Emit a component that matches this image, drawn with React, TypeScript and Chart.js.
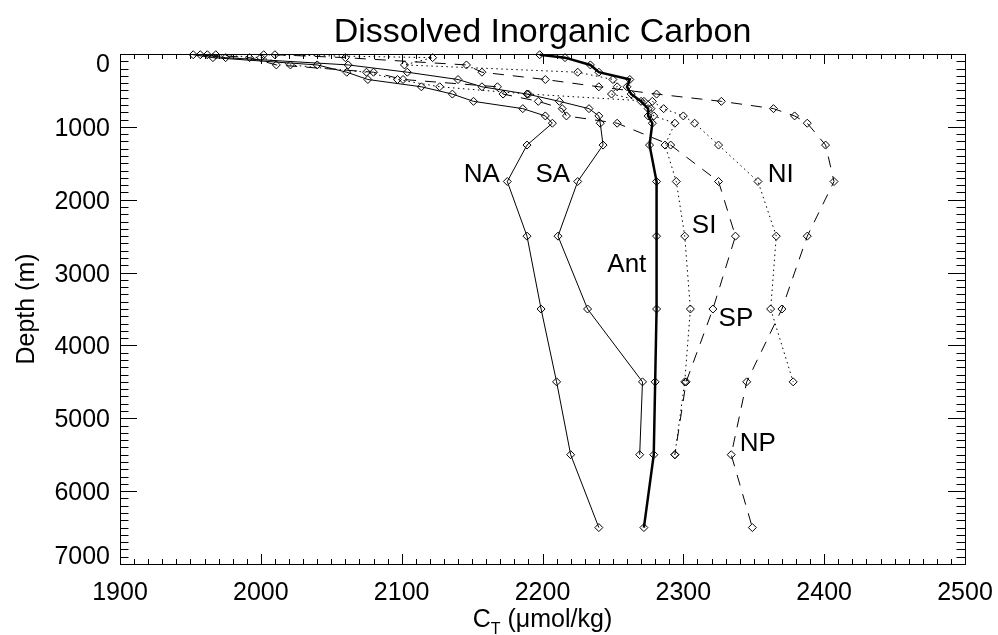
import React, { useEffect, useRef } from 'react';
import { Chart, registerables } from 'chart.js';

Chart.register(...registerables);

// ---- data ----
const depths = [10, 50, 150, 250, 350, 450, 550, 650, 750, 850, 950, 1250, 1750, 2500, 3500, 4500, 5500, 6500];

const naValues = [1952, 1966, 2040, 2061, 2076, 2114, 2136, 2151, 2186, 2202, 2207, 2189, 2175, 2189, 2199, 2210, 2220, 2240];
const saValues = [1957, 1975, 2062, 2104, 2140, 2157, 2189, 2212, 2233, 2240, 2241, 2243, 2225, 2211, 2232, 2271, 2269];
const antValues = [2198, 2216, 2234, 2240, 2262, 2260, 2263, 2270, 2275, 2275, 2278, 2276, 2281, 2281, 2281, 2280, 2279, 2272];
const siValues = [2002, 2122, 2102, 2225, 2250, 2253, 2249, 2272, 2277, 2279, 2294, 2287, 2295, 2301, 2305, 2301, 2294];
const spValues = [1962, 1992, 2011, 2080, 2101, 2168, 2172, 2197, 2214, 2217, 2253, 2291, 2325, 2337, 2321, 2302, 2294];
const niValues = [1968, 2000, 2021, 2075, 2097, 2127, 2190, 2278, 2286, 2300, 2308, 2325, 2353, 2366, 2362, 2378];
const npValues = [2010, 2060, 2146, 2157, 2202, 2240, 2281, 2327, 2364, 2379, 2388, 2401, 2407, 2388, 2370, 2345, 2334, 2349];

const xTickLabels = ['1900', '2000', '2100', '2200', '2300', '2400', '2500'];
const yTickLabels = ['0', '1000', '2000', '3000', '4000', '5000', '6000', '7000'];

const seriesLabels = ['NA', 'SA', 'Ant', 'SI', 'NI', 'SP', 'NP'];
// label anchors (left, baseline) in data units
const labelX = [2144, 2195, 2246, 2306, 2360, 2325, 2340];
const labelY = [1756, 1756, 2986, 2451, 1752, 3731, 5455];

const TITLE = 'Dissolved Inorganic Carbon';
const Y_TITLE = 'Depth (m)';

const FONT = '"Liberation Sans", Arial, Helvetica, sans-serif';

function toPoints(values: number[]) {
  return values.map((v, i) => ({ x: v, y: depths[i] }));
}

const framePlugin = {
  id: 'idlFrame',
  afterDraw(chart: any) {
    const ctx = chart.ctx as CanvasRenderingContext2D;
    const { left, right, top, bottom } = chart.chartArea;
    const xs = chart.scales.x;
    const ys = chart.scales.y;
    ctx.save();
    ctx.strokeStyle = '#000';
    ctx.lineWidth = 1;
    ctx.strokeRect(Math.round(left) + 0.5, Math.round(top) + 0.5, Math.round(right - left), Math.round(bottom - top));

    ctx.beginPath();
    for (let v = 1900; v <= 2500; v += 10) {
      const px = Math.round(xs.getPixelForValue(v)) + 0.5;
      const len = v % 100 === 0 ? 10 : 5;
      ctx.moveTo(px, bottom);
      ctx.lineTo(px, bottom - len);
      ctx.moveTo(px, top);
      ctx.lineTo(px, top + len);
    }
    for (let d = 0; d <= 7000; d += 100) {
      const py = Math.round(ys.getPixelForValue(d)) + 0.5;
      const len = d % 1000 === 0 ? 17 : 8.5;
      ctx.moveTo(left, py);
      ctx.lineTo(left + len, py);
      ctx.moveTo(right, py);
      ctx.lineTo(right - len, py);
    }
    ctx.stroke();

    ctx.fillStyle = '#000';
    ctx.font = `25px ${FONT}`;
    ctx.textAlign = 'center';
    ctx.textBaseline = 'alphabetic';
    xTickLabels.forEach((t) => {
      const px = xs.getPixelForValue(Number(t));
      ctx.fillText(t, px, 600);
    });
    ctx.textAlign = 'right';
    const capH = 18;
    yTickLabels.forEach((t) => {
      let py = ys.getPixelForValue(Number(t));
      py = Math.max(top + capH / 2, Math.min(bottom - capH / 2, py));
      ctx.fillText(t, left - 10, py + capH / 2);
    });

    ctx.textAlign = 'center';
    ctx.font = `34px ${FONT}`;
    ctx.fillText(TITLE, (left + right) / 2, 42);

    ctx.textAlign = 'left';
    const bigFont = `25px ${FONT}`;
    const smallFont = `16px ${FONT}`;
    ctx.font = bigFont;
    const wC = ctx.measureText('C').width;
    const rest = ' (\u03bcmol/kg)';
    const wRest = ctx.measureText(rest).width;
    ctx.font = smallFont;
    const wT = ctx.measureText('T').width;
    const total = wC + wT + wRest;
    const x0 = (left + right) / 2 - total / 2;
    ctx.font = bigFont;
    ctx.fillText('C', x0, 627);
    ctx.font = smallFont;
    ctx.fillText('T', x0 + wC, 634);
    ctx.font = bigFont;
    ctx.fillText(rest, x0 + wC + wT, 627);

    ctx.save();
    ctx.translate(34, (top + bottom) / 2);
    ctx.rotate(-Math.PI / 2);
    ctx.textAlign = 'center';
    ctx.font = bigFont;
    ctx.fillText(Y_TITLE, 0, 0);
    ctx.restore();

    ctx.font = `26px ${FONT}`;
    ctx.textAlign = 'left';
    seriesLabels.forEach((s, i) => {
      ctx.fillText(s, xs.getPixelForValue(labelX[i]), ys.getPixelForValue(labelY[i]));
    });
    ctx.restore();
  },
};

export default function App() {
  const ref = useRef<HTMLCanvasElement | null>(null);
  useEffect(() => {
    if (!ref.current) return;
    const common = {
      showLine: true,
      borderColor: '#000',
      pointBorderColor: '#000',
      pointBackgroundColor: 'rgba(0,0,0,0)',
      pointStyle: 'rectRot',
      pointRadius: 4,
      pointBorderWidth: 1,
      tension: 0,
      clip: false,
    };
    const dotted = [1.5, 3.5];
    const dashed = [11, 9];
    const chart = new Chart(ref.current, {
      type: 'scatter',
      data: {
        datasets: [
          { ...common, label: 'NA', data: toPoints(naValues), borderWidth: 1 },
          { ...common, label: 'SA', data: toPoints(saValues), borderWidth: 1 },
          { ...common, label: 'Ant', data: toPoints(antValues), borderWidth: 2.5 },
          { ...common, label: 'SI', data: toPoints(siValues), borderWidth: 1, borderDash: dotted },
          { ...common, label: 'NI', data: toPoints(niValues), borderWidth: 1, borderDash: dotted },
          { ...common, label: 'SP', data: toPoints(spValues), borderWidth: 1, borderDash: dashed },
          { ...common, label: 'NP', data: toPoints(npValues), borderWidth: 1, borderDash: dashed },
        ] as any,
      },
      options: {
        responsive: false,
        animation: false,
        layout: { padding: { left: 120, top: 54, right: 33, bottom: 71 } },
        plugins: { legend: { display: false }, tooltip: { enabled: false }, title: { display: false } },
        scales: {
          x: { type: 'linear', min: 1900, max: 2500, display: false },
          y: { type: 'linear', min: 0, max: 7000, reverse: true, display: false },
        },
      },
      plugins: [framePlugin],
    });
    return () => chart.destroy();
  }, []);
  return (
    <div style={{ position: 'absolute', left: 0, top: 0, width: 998, height: 635, background: '#fff' }}>
      <canvas ref={ref} width={998} height={635} style={{ display: 'block' }} />
    </div>
  );
}
